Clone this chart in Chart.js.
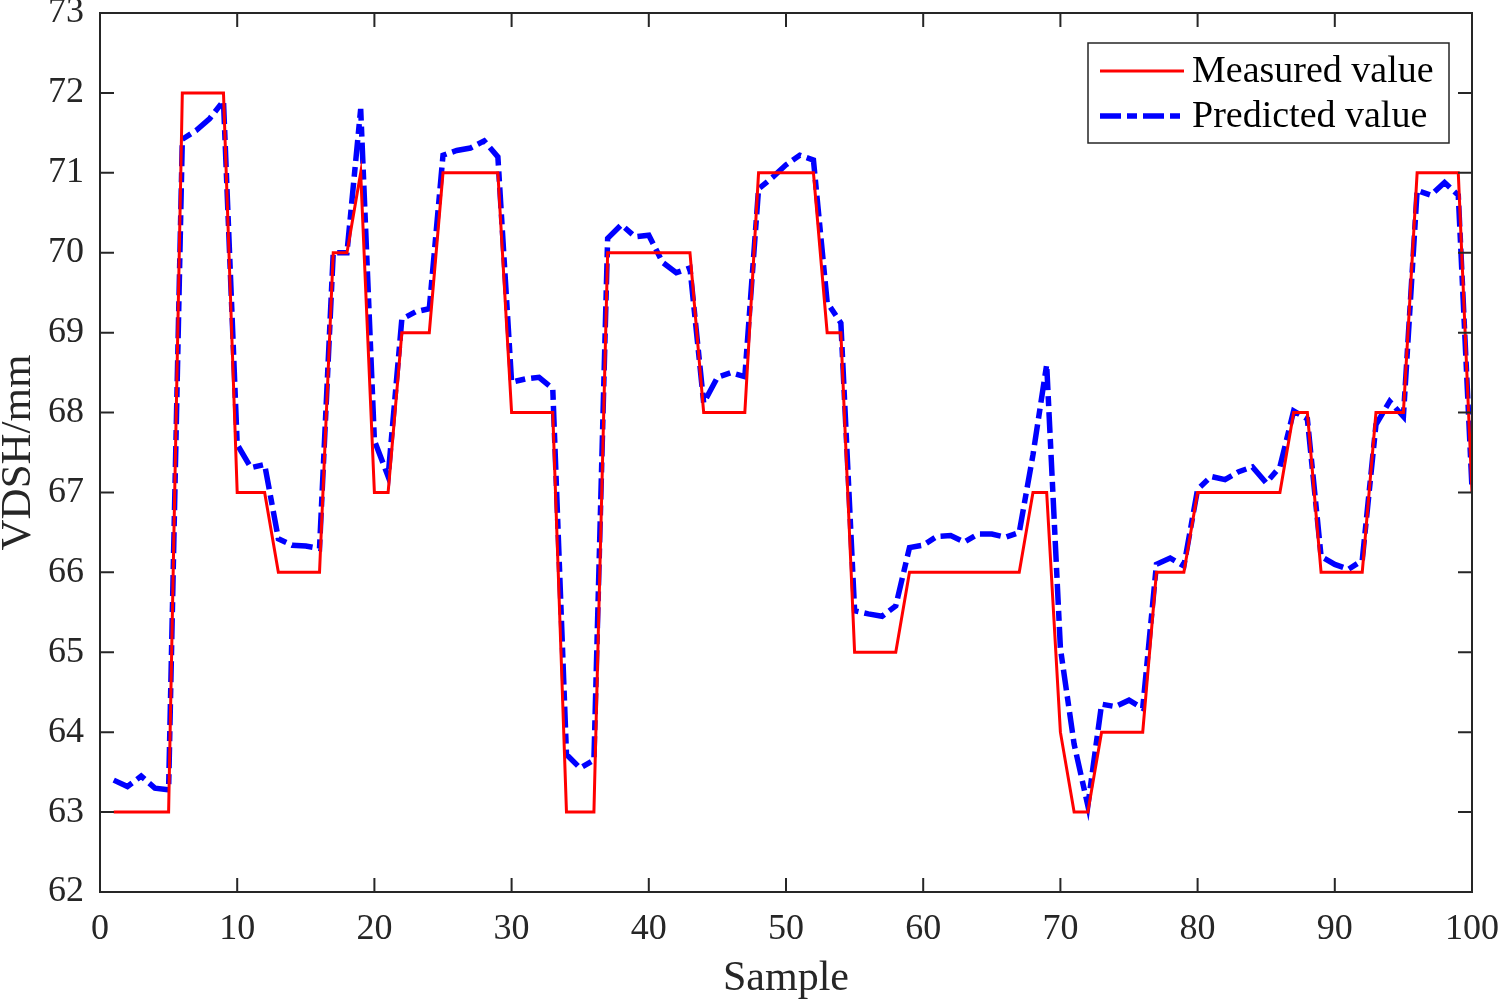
<!DOCTYPE html>
<html>
<head>
<meta charset="utf-8">
<script src="https://cdn.jsdelivr.net/npm/chart.js@4.4.1/dist/chart.umd.min.js"></script>
<style>
  body { margin: 0; background: #fff; }
  .container { width: 1500px; height: 1000px; }
</style>
</head>
<body>
<div class="container"><canvas id="graphCanvas" width="1500" height="1000"></canvas></div>
<script>
let samples = []
for (let i = 1; i <= 100; i++) samples.push(i)

let measured = [
    63, 63, 63, 63, 63, 72, 72, 72, 72, 67,
    67, 67, 66, 66, 66, 66, 70, 70, 71, 67,
    67, 69, 69, 69, 71, 71, 71, 71, 71, 68,
    68, 68, 68, 63, 63, 63, 70, 70, 70, 70,
    70, 70, 70, 68, 68, 68, 68, 71, 71, 71,
    71, 71, 69, 69, 65, 65, 65, 65, 66, 66,
    66, 66, 66, 66, 66, 66, 66, 67, 67, 64,
    63, 63, 64, 64, 64, 64, 66, 66, 66, 67,
    67, 67, 67, 67, 67, 67, 68, 68, 66, 66,
    66, 66, 68, 68, 68, 71, 71, 71, 71, 67
]

let predicted = [
    63.40, 63.32, 63.45, 63.30, 63.28, 71.42, 71.53, 71.68, 71.90, 67.60,
    67.31, 67.35, 66.42, 66.34, 66.33, 66.30, 70.00, 70.00, 71.80, 67.65,
    67.20, 69.17, 69.26, 69.30, 71.22, 71.28, 71.31, 71.40, 71.20, 68.38,
    68.42, 68.44, 68.30, 63.72, 63.55, 63.65, 70.18, 70.35, 70.20, 70.22,
    69.88, 69.75, 69.81, 68.12, 68.44, 68.50, 68.45, 70.80, 70.94, 71.10,
    71.22, 71.16, 69.38, 69.12, 65.52, 65.48, 65.45, 65.58, 66.31, 66.34,
    66.45, 66.46, 66.38, 66.48, 66.48, 66.44, 66.50, 67.47, 68.60, 65.05,
    63.85, 63.08, 64.35, 64.32, 64.40, 64.30, 66.10, 66.18, 66.08, 67.04,
    67.20, 67.16, 67.26, 67.32, 67.12, 67.32, 68.02, 67.92, 66.20, 66.10,
    66.04, 66.15, 67.85, 68.14, 67.95, 70.78, 70.72, 70.88, 70.72, 67.05
]

let seriesNames = ['Measured value', 'Predicted value']
let xTicks = [0, 10, 20, 30, 40, 50, 60, 70, 80, 90, 100]
let yTicks = [62, 63, 64, 65, 66, 67, 68, 69, 70, 71, 72, 73]

const axisColor = '#262626'
const serif = '"Liberation Serif", "Times New Roman", serif'

function toPoints(values) {
    return samples.map((s, i) => ({ x: s, y: values[i] }))
}

// box around the plot, ticks pointing inward on all four sides, legend inside
const matlabAxes = {
    id: 'matlabAxes',
    afterDraw(chart) {
        let ctx = chart.ctx
        let a = chart.chartArea
        let xs = chart.scales.x
        let ys = chart.scales.y
        let tl = 14
        ctx.save()
        ctx.strokeStyle = axisColor
        ctx.lineWidth = 2
        ctx.strokeRect(a.left, a.top, a.right - a.left, a.bottom - a.top)
        ctx.beginPath()
        xTicks.forEach(v => {
            let px = xs.getPixelForValue(v)
            ctx.moveTo(px, a.bottom); ctx.lineTo(px, a.bottom - tl)
            ctx.moveTo(px, a.top); ctx.lineTo(px, a.top + tl)
        })
        yTicks.forEach(v => {
            let py = ys.getPixelForValue(v)
            ctx.moveTo(a.left, py); ctx.lineTo(a.left + tl, py)
            ctx.moveTo(a.right, py); ctx.lineTo(a.right - tl, py)
        })
        ctx.stroke()

        // legend
        let lx = 1088, ly = 43, lw = 361, lh = 100
        ctx.fillStyle = '#fff'
        ctx.fillRect(lx, ly, lw, lh)
        ctx.lineWidth = 1.5
        ctx.strokeStyle = axisColor
        ctx.strokeRect(lx, ly, lw, lh)
        ctx.font = '38px ' + serif
        ctx.textBaseline = 'middle'
        chart.data.datasets.forEach((ds, i) => {
            let cy = ly + 28 + i * 45
            ctx.beginPath()
            ctx.strokeStyle = ds.borderColor
            ctx.lineWidth = ds.borderWidth
            ctx.setLineDash(ds.borderDash || [])
            ctx.moveTo(lx + 12, cy)
            ctx.lineTo(lx + 96, cy)
            ctx.stroke()
            ctx.setLineDash([])
            ctx.fillStyle = '#000'
            ctx.fillText(ds.label, lx + 104, cy + 1)
        })
        ctx.restore()
    }
}

new Chart(document.getElementById('graphCanvas'), {
    type: 'line',
    data: {
        datasets: [
            {
                label: seriesNames[0],
                data: toPoints(measured),
                borderColor: '#ff0000',
                borderWidth: 3,
                pointRadius: 0,
                tension: 0,
                fill: false
            },
            {
                label: seriesNames[1],
                data: toPoints(predicted),
                borderColor: '#0000ff',
                borderWidth: 5.5,
                borderDash: [21, 6, 10, 6],
                pointRadius: 0,
                tension: 0,
                fill: false
            }
        ]
    },
    options: {
        responsive: false,
        animation: false,
        layout: { autoPadding: false, padding: { top: 13, right: 28, left: 0, bottom: 0 } },
        plugins: {
            legend: { display: false },
            tooltip: { enabled: false }
        },
        scales: {
            x: {
                type: 'linear',
                min: 0,
                max: 100,
                afterFit: s => {
                    s.height = 108
                    s.paddingLeft = 0
                    s.paddingRight = 0
                },
                afterBuildTicks: s => { s.ticks = xTicks.map(v => ({ value: v })) },
                grid: { display: false, drawTicks: false },
                border: { display: false },
                ticks: {
                    padding: 16,
                    color: axisColor,
                    font: { family: serif, size: 36 },
                    maxRotation: 0
                },
                title: {
                    display: true,
                    text: 'Sample',
                    color: axisColor,
                    font: { family: serif, size: 42, lineHeight: 1.0 },
                    padding: 0
                }
            },
            y: {
                min: 62,
                max: 73,
                afterFit: s => {
                    s.width = 100
                    s.paddingTop = 0
                    s.paddingBottom = 0
                },
                afterBuildTicks: s => { s.ticks = yTicks.map(v => ({ value: v })) },
                grid: { display: false, drawTicks: false },
                border: { display: false },
                ticks: {
                    padding: 16,
                    color: axisColor,
                    font: { family: serif, size: 36 }
                },
                title: {
                    display: true,
                    text: 'VDSH/mm',
                    color: axisColor,
                    font: { family: serif, size: 43, lineHeight: 0.85 },
                    padding: 0
                }
            }
        }
    },
    plugins: [matlabAxes]
})
</script>
</body>
</html>
